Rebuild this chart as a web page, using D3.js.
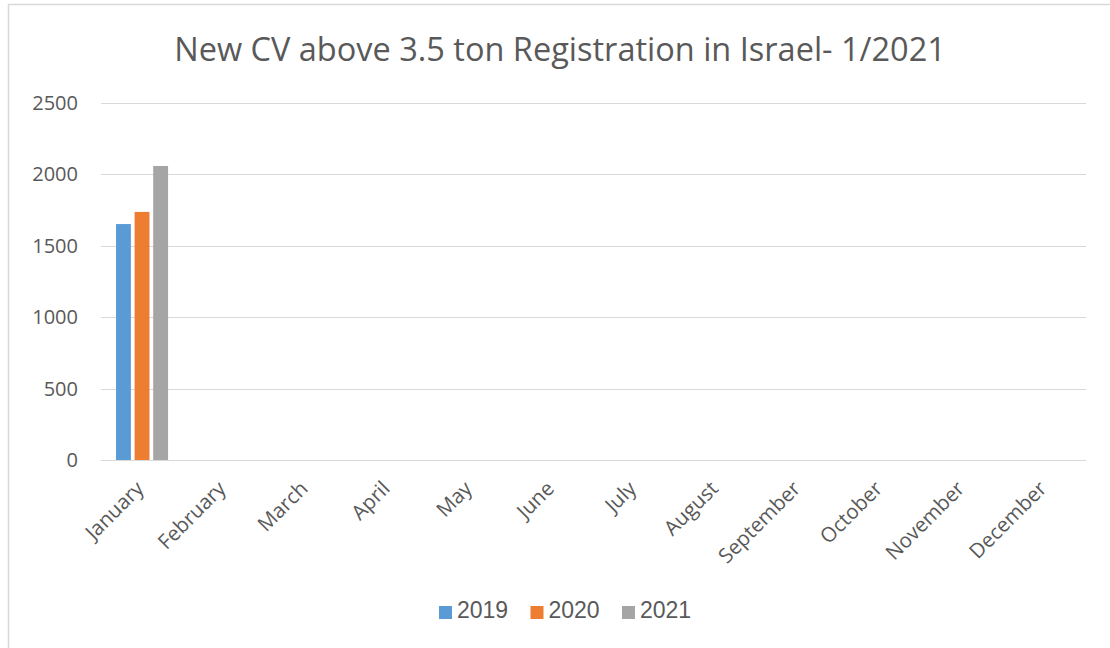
<!DOCTYPE html>
<html><head><meta charset="utf-8">
<script src="https://cdn.jsdelivr.net/npm/d3@7"></script>
<style>html,body{margin:0;padding:0;background:#fff;}svg{display:block;}</style>
</head><body>
<script>
const months = ["January","February","March","April","May","June","July","August","September","October","November","December"];
const seriesNames = ["2019","2020","2021"];
const values2019 = [1650,null,null,null,null,null,null,null,null,null,null,null];
const values2020 = [1735,null,null,null,null,null,null,null,null,null,null,null];
const values2021 = [2056,null,null,null,null,null,null,null,null,null,null,null];
const yTicks = [0,500,1000,1500,2000,2500];
const colors = ["#5b9bd5","#ed7d31","#a5a5a5"];
const title = "New CV above 3.5 ton Registration in Israel- 1/2021";

const W = 1110, H = 648;
const svg = d3.select("body").append("svg").attr("width", W).attr("height", H);
svg.append("rect").attr("x",8.5).attr("y",4.5).attr("width",W).attr("height",H)
  .attr("fill","#fff").attr("stroke","#d9d9d9").attr("stroke-width",1.5);

const m = {left:101, right:1086, top:102.5, bottom:460};
const x = d3.scaleBand().domain(months).range([m.left, m.right]).paddingInner(0.366).paddingOuter(0.183);
const xs = d3.scaleBand().domain(seriesNames).range([0, x.bandwidth()]).paddingInner(0.2);
const y = d3.scaleLinear().domain([0,2500]).range([m.bottom, m.top]);

svg.append("text").attr("x",560).attr("y",61).attr("text-anchor","middle")
  .attr("font-family","Open Sans").attr("font-size",32.5).attr("fill","#595959").text(title);

// gridlines
svg.append("g").selectAll("line").data(yTicks).join("line")
  .attr("x1",m.left).attr("x2",m.right)
  .attr("y1",d=>Math.round(y(d))+0.5).attr("y2",d=>Math.round(y(d))+0.5)
  .attr("stroke","#d9d9d9").attr("stroke-width",1.2);

// y labels
svg.append("g").selectAll("text").data(yTicks).join("text")
  .attr("x",78).attr("y",d=>y(d)).attr("dy","0.36em").attr("text-anchor","end")
  .attr("font-family","Open Sans").attr("font-size",20).attr("fill","#595959").text(d=>d);

// bars
const data = seriesNames.map((s,i)=>({s, c:colors[i], vals:[values2019,values2020,values2021][i]}));
const g = svg.append("g");
data.forEach(ser=>{
  g.selectAll(null).data(months.map((mo,j)=>({mo, v:ser.vals[j]})).filter(d=>d.v!=null)).join("rect")
    .attr("x",d=>x(d.mo)+xs(ser.s)).attr("width",xs.bandwidth())
    .attr("y",d=>y(d.v)).attr("height",d=>y(0)-y(d.v)).attr("fill",ser.c);
});

// x labels
const xc = d=>x(d)+x.bandwidth()/2;
svg.append("g").selectAll("text").data(months).join("text")
  .attr("transform",d=>`translate(${xc(d)-8},${479}) rotate(-45)`)
  .attr("text-anchor","end").attr("dy","0.75em")
  .attr("font-family","Open Sans").attr("font-size",20.5).attr("fill","#595959").text(d=>d);

// legend
const lx = [439,530.5,622];
const lg = svg.append("g");
seriesNames.forEach((s,i)=>{
  lg.append("rect").attr("x",lx[i]).attr("y",606).attr("width",13).attr("height",13).attr("fill",colors[i]);
  lg.append("text").attr("x",lx[i]+18).attr("y",618).attr("font-family","Liberation Sans, Arial")
    .attr("font-size",23).attr("fill","#595959").text(s);
});
</script>
</body></html>
